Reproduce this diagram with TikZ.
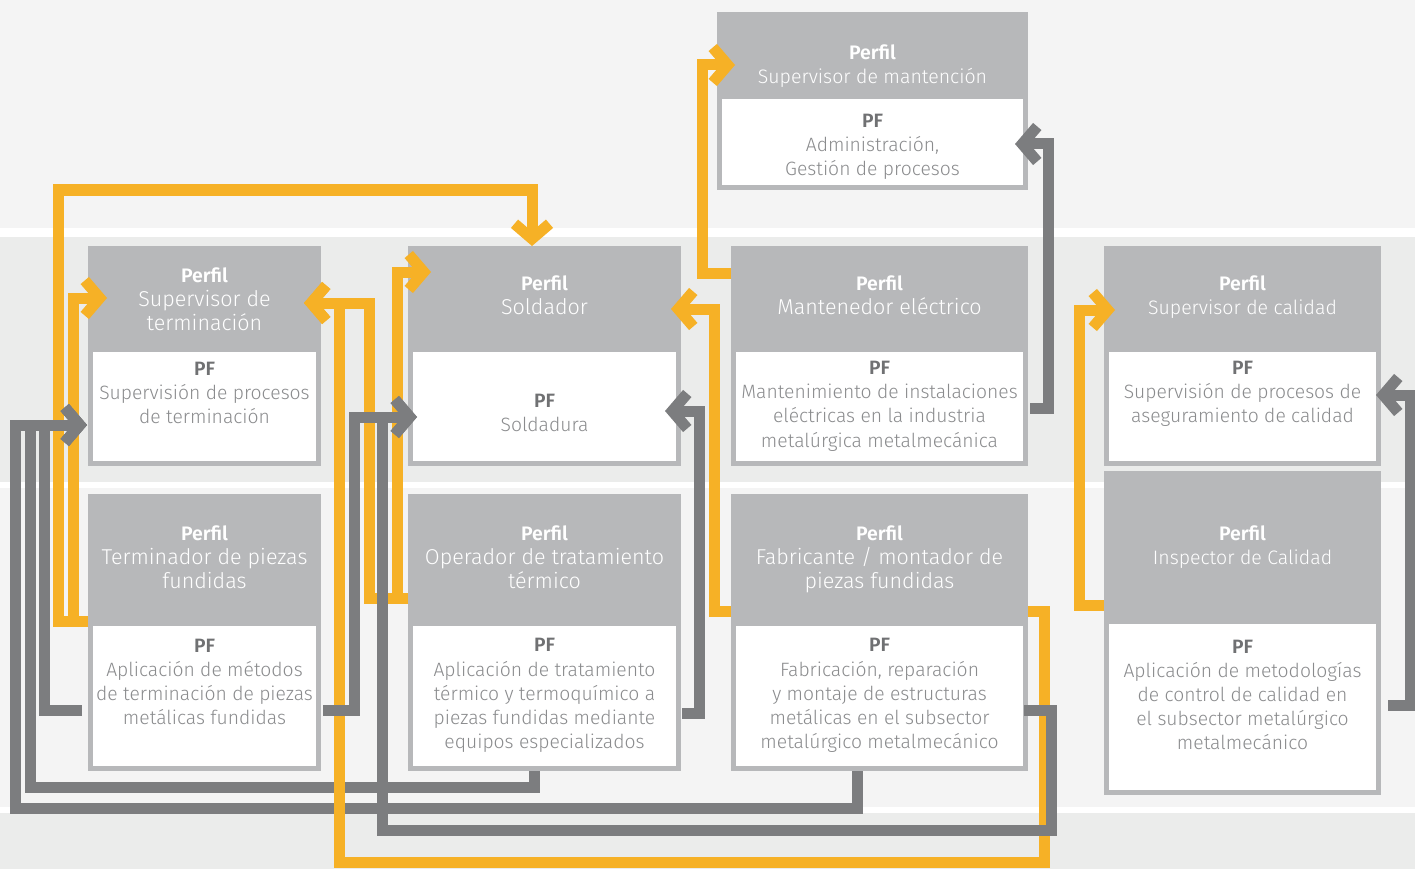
\documentclass[tikz,border=0pt]{standalone}
\usepackage{fontspec}
\setmainfont{Fira Sans}[UprightFont={* Light},BoldFont={* SemiBold}]
\usetikzlibrary{arrows.meta}
\definecolor{bgA}{HTML}{F4F4F4}
\definecolor{bgB}{HTML}{EBECEB}
\definecolor{hdrC}{HTML}{B7B8BA}
\definecolor{pfTitle}{HTML}{707173}
\definecolor{pfText}{HTML}{8A8B8D}
\definecolor{cY}{HTML}{F6B126}
\definecolor{cG}{HTML}{7C7D7F}
\tikzset{
  cardbox/.style={fill=hdrC, draw=none, inner sep=0pt, outer sep=0pt, anchor=north west},
  pfbox/.style={fill=white, draw=none, inner sep=0pt, outer sep=0pt, anchor=north west},
  ht/.style={align=center, text=white, inner sep=0pt, font=\fontsize{19.5}{24}\selectfont},
  pt/.style={align=center, text=pfText, inner sep=0pt, font=\fontsize{19.3}{24.2}\selectfont},
  conn/.style={line width=11pt, line join=miter, line cap=butt, -{Straight Barb[sharp,length=15pt,width=35pt]}},
  yl/.style={conn, draw=cY},
  gl/.style={conn, draw=cG},
}
\newcommand\mycard[6]{%
  \node[cardbox, minimum width={(#4-#2)*1pt}, minimum height={(#5-#3)*1pt}] (#1) at (#2,#3) {};
  \node[pfbox, minimum width={(#4-#2-10)*1pt}, minimum height={(#5-#6-5)*1pt}] (#1w) at (#2+5,#6) {};
}
\newcommand\pft{{\color{pfTitle}\textbf{PF}}}
\newcommand\pfl{\textbf{Perfil}}
\newcommand\bigsub[1]{{\fontsize{21.5}{24}\selectfont #1}}
\begin{document}
\begin{tikzpicture}[x=1pt,y=-1pt]
\useasboundingbox (0,0) rectangle (1415,869);
% background bands
\fill[bgA] (0,0) rectangle (1415,228);
\fill[white] (0,228) rectangle (1415,237);
\fill[bgB] (0,237) rectangle (1415,482);
\fill[white] (0,482) rectangle (1415,488);
\fill[bgA] (0,488) rectangle (1415,807);
\fill[white] (0,807) rectangle (1415,813);
\fill[bgB] (0,813) rectangle (1415,869);

% cards
\mycard{B1}{88}{246}{321}{466}{352}
\mycard{B2}{88}{494}{321}{771}{626}
\mycard{B3}{408}{246}{681}{466}{352}
\mycard{B4}{408}{494}{681}{771}{626}
\mycard{B5}{717}{12}{1028}{190}{99}
\mycard{B6}{731}{246}{1028}{466}{352}
\mycard{B7}{731}{494}{1028}{771}{626}
\mycard{B8}{1104}{246}{1381}{466}{352}
\mycard{B9}{1104}{471}{1381}{795}{624}

% texts
\node[ht] (B1h) at (B1.north |- 0,299.5) {\pfl\\\bigsub{Supervisor de}\\\bigsub{terminación}};
\node[pt] (B1p) at (B1.north |- 0,393) {\pft\\Supervisión de procesos\\de terminación};
\node[ht] (B2h) at (B2.north |- 0,557.5) {\pfl\\\bigsub{Terminador de piezas}\\\bigsub{fundidas}};
\node[pt] (B2p) at (B2.north |- 0,682) {\pft\\Aplicación de métodos\\de terminación de piezas\\metálicas fundidas};
\node[ht] (B3h) at (B3.north |- 0,295.5) {\pfl\\\bigsub{Soldador}};
\node[pt] (B3p) at (B3.north |- 0,413) {\pft\\Soldadura};
\node[ht] (B4h) at (B4.north |- 0,557.5) {\pfl\\\bigsub{Operador de tratamiento}\\\bigsub{térmico}};
\node[pt] (B4p) at (B4.north |- 0,695.5) {\pft\\Aplicación de tratamiento\\térmico y termoquímico a\\piezas fundidas mediante\\equipos especializados};
\node[ht] (B5h) at (B5.north |- 0,66.5) {\pfl\\Supervisor de mantención};
\node[pt] (B5p) at (B5.north |- 0,147) {\pft\\Administración,\\Gestión de procesos};
\node[ht] (B6h) at (B6.north |- 0,295.5) {\pfl\\\bigsub{Mantenedor eléctrico}};
\node[pt] (B6p) at (B6.north |- 0,406) {\pft\\Mantenimiento de instalaciones\\eléctricas en la industria\\metalúrgica metalmecánica};
\node[ht] (B7h) at (B7.north |- 0,559.5) {\pfl\\\bigsub{Fabricante / montador de}\\\bigsub{piezas fundidas}};
\node[pt] (B7p) at (B7.north |- 0,695.5) {\pft\\Fabricación, reparación\\y montaje de estructuras\\metálicas en el subsector\\metalúrgico metalmecánico};
\node[ht] (B8h) at (B8.north |- 0,297.5) {\pfl\\Supervisor de calidad};
\node[pt] (B8p) at (B8.north |- 0,393.5) {\pft\\Supervisión de procesos de\\aseguramiento de calidad};
\node[ht] (B9h) at (B9.north |- 0,547.5) {\pfl\\Inspector de Calidad};
\node[pt] (B9p) at (B9.north |- 0,695) {\pft\\Aplicación de metodologías\\de control de calidad en\\el subsector metalúrgico\\metalmecánico};

% connectors (yellow, first group)
\draw[yl] (B2.west |- 0,621) -| (58,190) -| ([xshift=-12.5pt]B3.north);
\draw[yl] (B2.west |- 0,621) -| (73.5,298) -- ([xshift=19pt]B1.west |- 0,298);
\draw[yl] (B4.west |- 0,598) -| (369,303) -- ([xshift=-17pt]B1.east |- 0,303);
\draw[yl] (B4.west |- 0,598) -| (397.5,272) -- ([xshift=23pt]B3.west |- 0,272);
\draw[yl] (B6.west |- 0,273) -| (702.5,65) -- ([xshift=18pt]B5.west |- 0,65);
\draw[yl] (B7.west |- 0,611) -| (714,309) -- ([xshift=-10pt]B3.east |- 0,309);
\draw[yl] (B9.west |- 0,605) -| (1079,310) -- ([xshift=11pt]B8.west |- 0,310);

% gray into B1 PF
\draw[gl] ([xshift=-6pt]B2.west |- 0,710) -| (44,425) -- ([xshift=-1pt]B1.west |- 0,425);
\draw[gl] ([xshift=-10.5pt]B4.south) |- (30,787) |- ([xshift=-1pt]B1.west |- 0,425);
\draw[gl] ([xshift=-22pt]B7.south) |- (15,808) |- ([xshift=-1pt]B1.west |- 0,425);

% long yellow from B7 to B1
\draw[yl] (B7.east |- 0,611) -| (1044,862) -| (339,303) -- ([xshift=-17pt]B1.east |- 0,303);

% gray into B3 PF and others
\draw[gl] ([xshift=1pt]B7w.east |- 0,710) -| (1051,830) -| (382,417) -- ([xshift=9pt]B3.west |- 0,417);
\draw[gl] ([xshift=2pt]B2.east |- 0,710) -| (354,417) -- ([xshift=9pt]B3.west |- 0,417);
\draw[gl] ([xshift=1pt]B4.east |- 0,713) -| (699,411) -- ([xshift=-16pt]B3.east |- 0,411);
\draw[gl] ([xshift=2pt]B6.east |- 0,408) -| (1048,144) -- ([xshift=-13pt]B5.east |- 0,144);
\draw[gl] ([xshift=7pt]B9.east |- 0,705) -| (1410,395) -- ([xshift=-5pt]B8.east |- 0,395);
\end{tikzpicture}
\end{document}
